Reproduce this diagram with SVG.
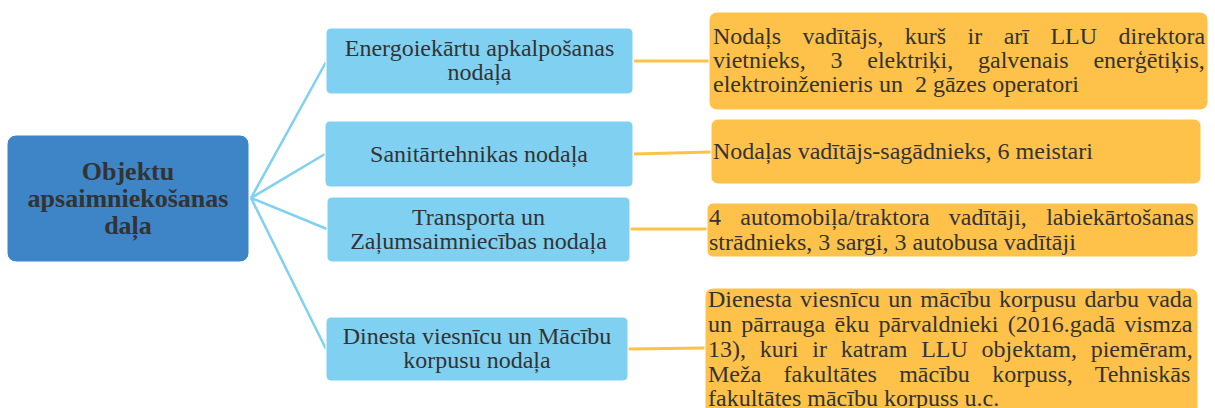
<svg xmlns="http://www.w3.org/2000/svg" width="1215" height="408" viewBox="0 0 1215 408">
<style>
.root{fill:#3d85c6;stroke:#ffffff;stroke-width:1}
.dept{fill:#80d1f1;stroke:#ffffff;stroke-width:1}
.info{fill:#fec24b;stroke:#ffffff;stroke-width:1}
.t{font-family:"Liberation Serif","Times New Roman",serif;font-size:24px;fill:#333333}
.c{text-anchor:middle}
.b{font-weight:bold;font-size:26px}
.lb{fill:none;stroke:#80d1f1;stroke-width:2.5}
.lo{fill:none;stroke:#fec24b;stroke-width:3}
</style>
<g id="connectors">
<line class="lb" x1="251" y1="198" x2="326" y2="62"/>
<line class="lb" x1="251" y1="198" x2="325" y2="154"/>
<line class="lb" x1="251" y1="198" x2="327" y2="229"/>
<line class="lb" x1="251" y1="198" x2="326" y2="349"/>
<line class="lo" x1="634" y1="61" x2="709" y2="61"/>
<line class="lo" x1="634" y1="154" x2="711" y2="152"/>
<line class="lo" x1="630" y1="229" x2="707" y2="229"/>
<line class="lo" x1="628" y1="349" x2="705" y2="348"/>
</g>
<g id="root">
<rect class="root" x="7" y="135" width="242" height="127" rx="9"/>
<text class="t c b" x="128"><tspan x="128" y="180">Objektu</tspan><tspan x="128" y="207">apsaimniekošanas</tspan><tspan x="128" y="234">daļa</tspan></text>
</g>
<g id="dept1">
<rect class="dept" x="326" y="28" width="307" height="66" rx="5"/>
<text class="t c"><tspan x="479.5" y="56">Energoiekārtu apkalpošanas</tspan><tspan x="479.5" y="80">nodaļa</tspan></text>
</g>
<g id="dept2">
<rect class="dept" x="325" y="121" width="308" height="66" rx="5"/>
<text class="t c" x="479" y="162">Sanitārtehnikas nodaļa</text>
</g>
<g id="dept3">
<rect class="dept" x="327" y="197" width="303" height="65" rx="5"/>
<text class="t c"><tspan x="478.5" y="225">Transporta un</tspan><tspan x="478.5" y="249">Zaļumsaimniecības nodaļa</tspan></text>
</g>
<g id="dept4">
<rect class="dept" x="326" y="317" width="302" height="64" rx="5"/>
<text class="t c"><tspan x="477" y="344">Dinesta viesnīcu un Mācību</tspan><tspan x="477" y="368">korpusu nodaļa</tspan></text>
</g>
<g id="info1">
<rect class="info" x="709" y="12" width="499" height="98" rx="8"/>
<text class="t"><tspan x="713" y="44" word-spacing="15.5">Nodaļs vadītājs, kurš ir arī LLU direktora</tspan><tspan x="713" y="68" word-spacing="18.8">vietnieks, 3 elektriķi, galvenais enerģētiķis,</tspan><tspan x="713" y="92">elektroinženieris un &#160;2 gāzes operatori</tspan></text>
</g>
<g id="info2">
<rect class="info" x="711" y="119" width="490" height="65" rx="7"/>
<text class="t" x="713" y="159">Nodaļas vadītājs-sagādnieks, 6 meistari</text>
</g>
<g id="info3">
<rect class="info" x="707" y="203" width="491" height="54" rx="6"/>
<text class="t"><tspan x="709" y="225" word-spacing="13.3">4 automobiļa/traktora vadītāji, labiekārtošanas</tspan><tspan x="709" y="250">strādnieks, 3 sargi, 3 autobusa vadītāji</tspan></text>
</g>
<g id="info4">
<rect class="info" x="705" y="288" width="493" height="130" rx="8"/>
<text class="t"><tspan x="708" y="307" word-spacing="2.1">Dienesta viesnīcu un mācību korpusu darbu vada</tspan><tspan x="708" y="332" word-spacing="3.3">un pārrauga ēku pārvaldnieki (2016.gadā vismza</tspan><tspan x="708" y="357" word-spacing="7.8">13), kuri ir katram LLU objektam, piemēram,</tspan><tspan x="708" y="382" word-spacing="16.3">Meža fakultātes mācību korpuss, Tehniskās</tspan><tspan x="708" y="406">fakultātes mācību korpuss u.c.</tspan></text>
</g>
</svg>
